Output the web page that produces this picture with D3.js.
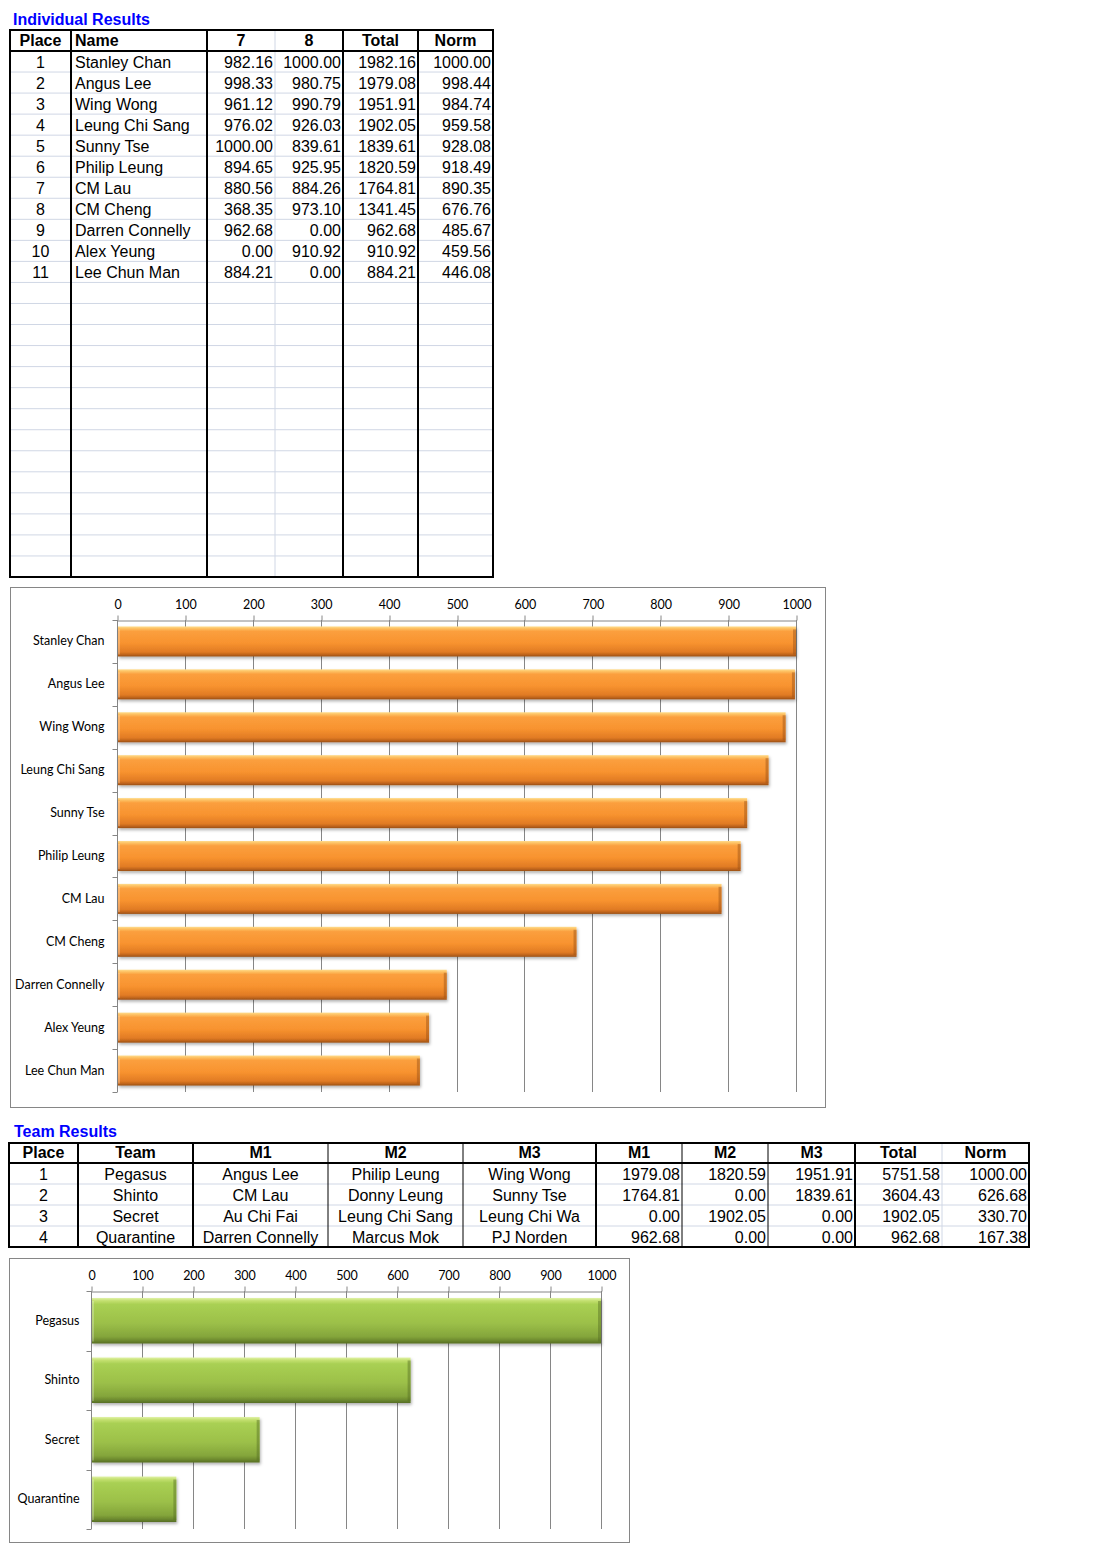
<!DOCTYPE html>
<html>
<head>
<meta charset="utf-8">
<script src="https://cdn.jsdelivr.net/npm/d3@7"></script>
<style>
  body { margin: 0; background: #fff; }
  .cell { font-family: Arial, "Liberation Sans", sans-serif; font-size: 16px; fill: #000; }
  .head { font-weight: bold; }
  .title { font-family: Arial, "Liberation Sans", sans-serif; font-size: 16px; font-weight: bold; fill: #0000ff; }
  .axis text, .barLabel { font-family: Lato, "Open Sans", sans-serif; font-size: 12.5px; fill: #000; }
  .axis path, .axis line { stroke: #868686; }
</style>
</head>
<body>
<div class="canva"></div>
<script>
// individual results
const places = [1,2,3,4,5,6,7,8,9,10,11];
const names = ["Stanley Chan","Angus Lee","Wing Wong","Leung Chi Sang","Sunny Tse","Philip Leung","CM Lau","CM Cheng","Darren Connelly","Alex Yeung","Lee Chun Man"];
const score7 = [982.16,998.33,961.12,976.02,1000.00,894.65,880.56,368.35,962.68,0.00,884.21];
const score8 = [1000.00,980.75,990.79,926.03,839.61,925.95,884.26,973.10,0.00,910.92,0.00];
const totals = [1982.16,1979.08,1951.91,1902.05,1839.61,1820.59,1764.81,1341.45,962.68,910.92,884.21];
const norms = [1000.00,998.44,984.74,959.58,928.08,918.49,890.35,676.76,485.67,459.56,446.08];

// team results
const teamPlaces = [1,2,3,4];
const teams = ["Pegasus","Shinto","Secret","Quarantine"];
const teamM1 = ["Angus Lee","CM Lau","Au Chi Fai","Darren Connelly"];
const teamM2 = ["Philip Leung","Donny Leung","Leung Chi Sang","Marcus Mok"];
const teamM3 = ["Wing Wong","Sunny Tse","Leung Chi Wa","PJ Norden"];
const teamS1 = [1979.08,1764.81,0.00,962.68];
const teamS2 = [1820.59,0.00,1902.05,0.00];
const teamS3 = [1951.91,1839.61,0.00,0.00];
const teamTotals = [5751.58,3604.43,1902.05,962.68];
const teamNorms = [1000.00,626.68,330.70,167.38];

const xTicks = [0,100,200,300,400,500,600,700,800,900,1000];

const fmt = d3.format(".2f");
const gridGrey = "#d0d7e5";

const svg = d3.select(".canva").append("svg")
    .attr("width", 1103)
    .attr("height", 1560);

// gradients for the bars
const defs = svg.append("defs");
function addGradient(id, stops) {
  const g = defs.append("linearGradient").attr("id", id)
      .attr("x1", 0).attr("y1", 0).attr("x2", 0).attr("y2", 1);
  stops.forEach(s => g.append("stop").attr("offset", s[0]).attr("stop-color", s[1]));
}
addGradient("orangeGrad", [[0,"#ffdc8c"],[0.07,"#fdc062"],[0.16,"#fb9f3e"],[0.55,"#f8932f"],[0.85,"#e17b24"],[0.93,"#c2661c"],[1,"#9a5016"]]);
addGradient("greenGrad", [[0,"#e0f2a8"],[0.06,"#c4e070"],[0.14,"#a9d053"],[0.55,"#9cc049"],[0.85,"#84a53b"],[0.93,"#6e8b2f"],[1,"#566e24"]]);
const shadow = defs.append("filter").attr("id", "barShadow")
    .attr("x", "-5%").attr("y", "-20%").attr("width", "110%").attr("height", "150%");
shadow.append("feDropShadow").attr("dx", 1).attr("dy", 2).attr("stdDeviation", 1.5)
    .attr("flood-color", "#000").attr("flood-opacity", 0.3);

// generic table drawer
function drawTable(cfg) {
  const g = svg.append("g");
  const left = cfg.colX[0], right = cfg.colX[cfg.colX.length - 1];
  const bodyTop = cfg.top + cfg.headerH;
  const bottom = bodyTop + cfg.nRows * cfg.rowH;

  // light row lines
  d3.range(1, cfg.nRows).forEach(i => {
    g.append("line")
      .attr("x1", left).attr("x2", right)
      .attr("y1", bodyTop + i * cfg.rowH).attr("y2", bodyTop + i * cfg.rowH)
      .attr("stroke", gridGrey).attr("stroke-width", 1);
  });

  // vertical lines
  cfg.colX.forEach((x, i) => {
    const w = cfg.vWidth[i];
    g.append("line")
      .attr("x1", x).attr("x2", x).attr("y1", cfg.top).attr("y2", bottom)
      .attr("stroke", w === 0 ? gridGrey : "#000")
      .attr("stroke-width", w === 0 ? 1 : w);
  });

  // horizontal borders
  [cfg.top, bodyTop, bottom].forEach(y => {
    g.append("line")
      .attr("x1", left - 1).attr("x2", right + 1).attr("y1", y).attr("y2", y)
      .attr("stroke", "#000").attr("stroke-width", 2);
  });

  function cellText(txt, ci, y, align, cls) {
    const x0 = cfg.colX[ci], x1 = cfg.colX[ci + 1];
    let x, anchor;
    if (align === "left") { x = x0 + 4; anchor = "start"; }
    else if (align === "right") { x = x1 - 2; anchor = "end"; }
    else { x = (x0 + x1) / 2; anchor = "middle"; }
    g.append("text").attr("class", cls)
      .attr("x", x).attr("y", y).attr("text-anchor", anchor).text(txt);
  }

  cfg.headers.forEach((h, ci) => cellText(h, ci, cfg.top + cfg.headerH - 5, cfg.headAlign[ci], "cell head"));
  cfg.rows.forEach((row, ri) => {
    row.forEach((v, ci) => cellText(v, ci, bodyTop + ri * cfg.rowH + 17, cfg.bodyAlign[ci], "cell"));
  });
}

// Individual results title + table
svg.append("text").attr("class", "title").attr("x", 13).attr("y", 25).text("Individual Results");
drawTable({
  colX: [10, 71, 207, 275, 343, 418, 493],
  vWidth: [2, 2, 2, 0, 2, 2, 2],
  top: 30, headerH: 21, rowH: 21.04, nRows: 25,
  headers: ["Place", "Name", "7", "8", "Total", "Norm"],
  headAlign: ["center", "left", "center", "center", "center", "center"],
  bodyAlign: ["center", "left", "right", "right", "right", "right"],
  rows: places.map((p, i) => [p, names[i], fmt(score7[i]), fmt(score8[i]), fmt(totals[i]), fmt(norms[i])])
});

// Team results title + table
svg.append("text").attr("class", "title").attr("x", 14).attr("y", 1137).text("Team Results");
drawTable({
  colX: [9, 78, 193, 328, 463, 596, 682, 768, 855, 942, 1029],
  vWidth: [2, 2, 2, 1, 1, 2, 1, 1, 2, 0, 2],
  top: 1143, headerH: 20, rowH: 21, nRows: 4,
  headers: ["Place", "Team", "M1", "M2", "M3", "M1", "M2", "M3", "Total", "Norm"],
  headAlign: ["center","center","center","center","center","center","center","center","center","center"],
  bodyAlign: ["center","center","center","center","center","right","right","right","right","right"],
  rows: teamPlaces.map((p, i) => [p, teams[i], teamM1[i], teamM2[i], teamM3[i],
        fmt(teamS1[i]), fmt(teamS2[i]), fmt(teamS3[i]), fmt(teamTotals[i]), fmt(teamNorms[i])])
});

// bar chart drawer
function drawBars(cfg) {
  const g = svg.append("g");
  g.append("rect")
    .attr("x", cfg.frame[0] + 0.5).attr("y", cfg.frame[1] + 0.5)
    .attr("width", cfg.frame[2]).attr("height", cfg.frame[3])
    .attr("fill", "#fff").attr("stroke", "#868686");

  const x = d3.scaleLinear().domain([0, 1000]).range(cfg.xRange);
  const y = d3.scaleBand().domain(cfg.cats).range(cfg.yRange)
      .paddingInner(cfg.pad).paddingOuter(cfg.pad / 2);

  // gridlines
  g.selectAll(".grid").data(xTicks.slice(1)).enter().append("line")
    .attr("x1", d => Math.round(x(d)) + 0.5).attr("x2", d => Math.round(x(d)) + 0.5)
    .attr("y1", cfg.yRange[0]).attr("y2", cfg.yRange[1])
    .attr("stroke", "#868686");

  // top value axis
  g.append("g").attr("class", "axis")
    .attr("transform", `translate(0.5, ${cfg.yRange[0] + 0.5})`)
    .call(d3.axisTop(x).tickValues(xTicks).tickFormat(d3.format("d"))
      .tickSizeInner(5).tickSizeOuter(0).tickPadding(7))
    .call(a => a.selectAll(".tick line").attr("transform", d => `translate(${Math.round(x(d)) - x(d)},0)`));

  // category axis
  const cat = g.append("g").attr("class", "axis")
    .attr("transform", `translate(${Math.round(cfg.xRange[0]) + 0.5}, 0)`)
    .call(d3.axisLeft(y).tickSize(0).tickPadding(cfg.labelPad));
  cat.select(".domain").attr("d", `M0,${cfg.yRange[0]}V${cfg.yRange[1]}`);
  const step = y.step();
  d3.range(cfg.cats.length + 1).forEach(i => {
    const yy = Math.round(cfg.yRange[0] + i * step) + 0.5;
    cat.append("line").attr("x1", -5).attr("x2", 0).attr("y1", yy).attr("y2", yy).attr("stroke", "#868686");
  });

  // bars
  const bars = g.selectAll(".bar").data(cfg.values).enter().append("g")
    .attr("filter", "url(#barShadow)");
  bars.append("rect")
    .attr("x", x(0) + 1)
    .attr("y", (d, i) => y(cfg.cats[i]))
    .attr("width", d => x(d) - x(0) - 1)
    .attr("height", y.bandwidth())
    .attr("fill", `url(#${cfg.grad})`);
  // right-end bevel
  bars.append("rect")
    .attr("x", d => x(d) - 3)
    .attr("y", (d, i) => y(cfg.cats[i]) + 3)
    .attr("width", 3)
    .attr("height", y.bandwidth() - 5)
    .attr("fill", cfg.edge).attr("opacity", 0.45);
  // left-end light bevel
  bars.append("rect")
    .attr("x", x(0) + 1)
    .attr("y", (d, i) => y(cfg.cats[i]) + 3)
    .attr("width", 2)
    .attr("height", y.bandwidth() - 5)
    .attr("fill", "#fff").attr("opacity", 0.25);
}

drawBars({
  frame: [10, 587, 815, 520],
  xRange: [117, 796],
  yRange: [620, 1092],
  pad: 0.3,
  labelPad: 13,
  cats: names,
  values: norms,
  grad: "orangeGrad",
  edge: "#9a5016"
});

drawBars({
  frame: [9, 1258, 620, 284],
  xRange: [91, 601],
  yRange: [1291, 1529],
  pad: 0.235,
  labelPad: 12,
  cats: teams,
  values: teamNorms,
  grad: "greenGrad",
  edge: "#566e24"
});
</script>
</body>
</html>
